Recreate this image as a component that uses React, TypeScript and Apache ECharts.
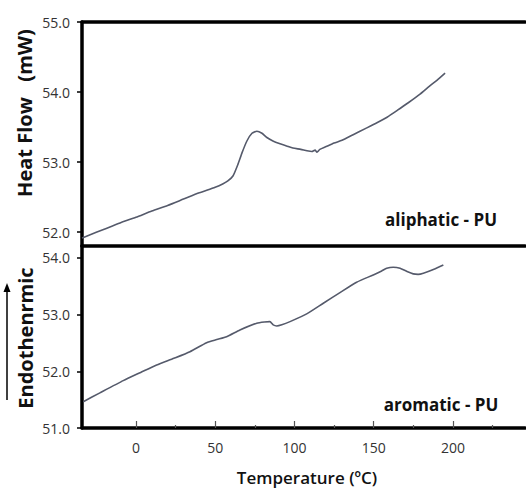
import React, { useEffect, useRef } from "react";
import * as echarts from "echarts";

// Aliphatic PU trace (top panel)
const tempsAliphatic = [-34, -30, -20, -10, 0, 10, 20, 30, 40, 50, 55, 58, 61.2, 64.4, 66.9, 70, 73.2, 76.3, 79.5, 82.6, 86.4, 90.9, 95, 99, 104, 107.9, 111, 113, 114.2, 116, 120, 125, 130, 137, 145, 152, 158.4, 165, 172, 179.2, 185, 190, 195];
const heatAliphatic = [51.914, 51.95, 52.04, 52.13, 52.21, 52.3, 52.38, 52.47, 52.56, 52.64, 52.69, 52.73, 52.8, 52.97, 53.13, 53.3, 53.41, 53.44, 53.41, 53.35, 53.3, 53.26, 53.23, 53.2, 53.18, 53.16, 53.15, 53.17, 53.14, 53.18, 53.22, 53.27, 53.31, 53.39, 53.48, 53.56, 53.64, 53.74, 53.85, 53.97, 54.08, 54.17, 54.27];

// Aromatic PU trace (bottom panel)
const tempsAromatic = [-33.2, -22.7, -8, 3, 13.1, 24, 34.1, 44.6, 51, 57.2, 65.6, 76.2, 81, 84.5, 86.6, 88.8, 92, 97.2, 107.7, 118.2, 128.7, 139.2, 149.7, 155, 158.2, 162.3, 166.6, 171, 174.9, 178, 181.3, 188, 193.9];
const heatAromatic = [51.464, 51.62, 51.835, 51.98, 52.112, 52.23, 52.346, 52.505, 52.56, 52.611, 52.729, 52.848, 52.87, 52.876, 52.818, 52.8, 52.82, 52.876, 53.012, 53.2, 53.388, 53.571, 53.7, 53.77, 53.818, 53.836, 53.818, 53.76, 53.718, 53.71, 53.73, 53.8, 53.876];

const xTicks = [0, 50, 100, 150, 200];
const xMinorTicks = [25, 75, 125, 175, 225];
const yTicksTop = [52, 53, 54, 55];
const yTicksBottom = [51, 52, 53, 54];

const FONT = "Open Sans";

export default function App() {
  const ref = useRef<HTMLDivElement>(null);
  useEffect(() => {
    if (!ref.current) return;
    const chart = echarts.init(ref.current, null, { renderer: "svg" });
    const xMin = -34;
    const xMax = 245.4;
    const axisLine = { show: true, onZero: false, lineStyle: { color: "#000", width: 3.5 } };
    const labelStyle = { color: "#333", fontSize: 14, fontFamily: FONT };
    const yAxisCommon = (ticks: number[], min: number, max: number, grid: number) => ({
      type: "value",
      gridIndex: grid,
      min,
      max,
      axisLine,
      axisTick: { show: true, inside: false, length: 5, customValues: ticks, lineStyle: { color: "#000", width: 1.5 } },
      axisLabel: { ...labelStyle, customValues: ticks, margin: 12, formatter: (v: number) => v.toFixed(1) },
      splitLine: { show: false },
    });
    chart.setOption({
      animation: false,
      backgroundColor: "#fff",
      grid: [
        { left: 82, top: 22, width: 443, height: 224 },
        { left: 82, top: 246, width: 443, height: 182 },
      ],
      xAxis: [
        { type: "value", gridIndex: 0, position: "bottom", min: xMin, max: xMax, axisLine, axisTick: { show: false }, axisLabel: { show: false }, splitLine: { show: false } },
        { type: "value", gridIndex: 0, position: "top", min: xMin, max: xMax, axisLine, axisTick: { show: false }, axisLabel: { show: false }, splitLine: { show: false } },
        {
          type: "value", gridIndex: 1, position: "bottom", min: xMin, max: xMax, axisLine,
          axisTick: { show: true, inside: true, length: 7, customValues: xTicks, lineStyle: { color: "#555", width: 1.2 } },
          axisLabel: { ...labelStyle, customValues: xTicks, margin: 12 },
          splitLine: { show: false },
        },
        {
          type: "value", gridIndex: 1, position: "bottom", min: xMin, max: xMax,
          axisLine: { show: false, onZero: false },
          axisTick: { show: true, inside: true, length: 3, customValues: xMinorTicks, lineStyle: { color: "#555", width: 1.2 } },
          axisLabel: { show: false },
          splitLine: { show: false },
        },
      ],
      yAxis: [yAxisCommon(yTicksTop, 51.8, 55, 0), yAxisCommon(yTicksBottom, 51, 54.21, 1)],
      series: [
        {
          type: "line", name: "aliphatic - PU", xAxisIndex: 0, yAxisIndex: 0,
          data: tempsAliphatic.map((t, i) => [t, heatAliphatic[i]]),
          showSymbol: false, smooth: 0.2,
          lineStyle: { color: "#555a6b", width: 1.6 },
        },
        {
          type: "line", name: "aromatic - PU", xAxisIndex: 2, yAxisIndex: 1,
          data: tempsAromatic.map((t, i) => [t, heatAromatic[i]]),
          showSymbol: false, smooth: 0.2,
          lineStyle: { color: "#555a6b", width: 1.6 },
        },
      ],
      graphic: [
        { type: "text", x: 24, y: 113, rotation: Math.PI / 2, style: { text: "Heat Flow   (mW)", fontFamily: FONT, fontSize: 20, fontWeight: "bold", fill: "#111", align: "center", verticalAlign: "middle" } },
        { type: "text", x: 25, y: 338, rotation: Math.PI / 2, style: { text: "Endothenrmic", fontFamily: FONT, fontSize: 20, fontWeight: "bold", fill: "#111", align: "center", verticalAlign: "middle" } },
        { type: "line", shape: { x1: 7, y1: 400, x2: 7, y2: 290 }, style: { stroke: "#000", lineWidth: 1.5 } },
        { type: "polygon", shape: { points: [[7, 283], [3.5, 292], [10.5, 292]] }, style: { fill: "#000" } },
        { type: "text", x: 307, y: 477, style: { text: "Temperature (ºC)", fontFamily: FONT, fontSize: 17, fontWeight: 600, fill: "#111", align: "center", verticalAlign: "middle" } },
        { type: "text", x: 441, y: 219, style: { text: "aliphatic - PU", fontFamily: FONT, fontSize: 17, fontWeight: "bold", fill: "#111", align: "center", verticalAlign: "middle" } },
        { type: "text", x: 441, y: 404, style: { text: "aromatic - PU", fontFamily: FONT, fontSize: 17, fontWeight: "bold", fill: "#111", align: "center", verticalAlign: "middle" } },
      ],
    });
    return () => chart.dispose();
  }, []);
  return <div ref={ref} style={{ position: "fixed", left: 0, top: 0, width: 526, height: 490, background: "#fff" }} />;
}
